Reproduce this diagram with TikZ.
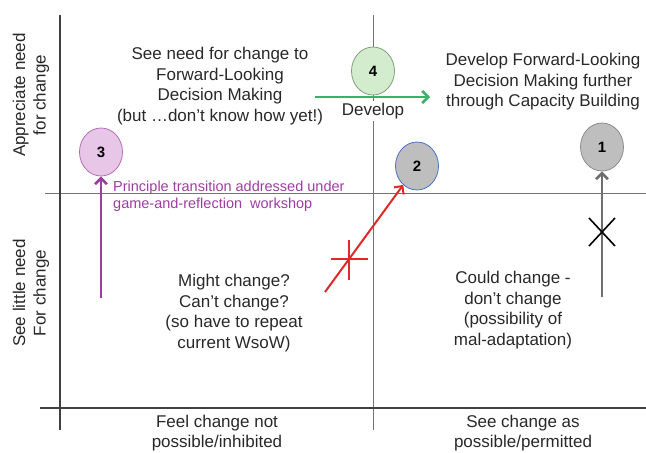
\documentclass[tikz,border=0pt]{standalone}
\usepackage{fontspec}
\setmainfont{Liberation Sans}
\usepackage{xcolor}
\usetikzlibrary{positioning,arrows.meta,shapes.geometric}

\definecolor{stagegreen}{RGB}{60,178,105}
\definecolor{greenfill}{RGB}{212,236,206}
\definecolor{greenline}{RGB}{125,160,125}
\definecolor{stagepurple}{RGB}{155,62,160}
\definecolor{purplefill}{RGB}{232,198,232}
\definecolor{purpleline}{RGB}{180,110,180}
\definecolor{grayfill}{RGB}{190,190,190}
\definecolor{grayline}{RGB}{140,140,140}
\definecolor{blueline}{RGB}{70,115,200}
\definecolor{stagered}{RGB}{225,40,40}
\definecolor{stagegray}{RGB}{110,110,110}
\definecolor{txt}{RGB}{40,40,40}

\begin{document}
\begin{tikzpicture}[
  x=1pt, y=-1pt,
  font=\fontsize{17}{20.5}\selectfont, text=txt,
  >={Straight Barb[length=6pt,width=12pt]},
  stage/.style={ellipse,draw,line width=0.8pt,minimum width=43pt,minimum height=48pt,inner sep=0pt,font=\fontsize{15}{16}\selectfont\bfseries,text=black},
  quad/.style={align=center,inner sep=1pt},
  axis/.style={line width=1.4pt,draw=black!75},
  divider/.style={line width=0.6pt,draw=black!55},
  move/.style={->,line width=2.6pt}
]
\useasboundingbox (0,0) rectangle (646,453);

% quadrant grid
\draw[divider] (45,193) -- (646,193);
\draw[divider] (373,15) -- (373,430);
\draw[axis] (60,15) -- (60,430);
\draw[axis] (40,408) -- (646,408);

% axis labels
\node[quad,rotate=90] (appr) at (31,95) {Appreciate need\\for change};
\node[quad,rotate=90] (little) at (31,293) {See little need\\For change};
\node[quad] (inhib) at (217,433) {Feel change not\\possible/inhibited};
\node[quad] (perm) at (523,433) {See change as\\possible/permitted};

% quadrant texts
\node[quad] (seeneed) at (220,86) {See need for change to\\Forward-Looking\\Decision Making\\(but \dots don't know how yet!)};
\node[quad] (further) at (543,82) {Develop Forward-Looking\\Decision Making further\\through Capacity Building};
\node[quad] (might) at (234,313) {Might change?\\Can't change?\\(so have to repeat\\current WsoW)};
\node[quad] (could) at (513,310) {Could change -\\don't change\\(possibility of\\mal-adaptation)};

% stages
\node[stage,fill=greenfill,draw=greenline] (s4) at (373,71) {4};
\node[stage,fill=grayfill,draw=grayline] (s1) at (602,147) {1};
\node[stage,fill=grayfill,draw=blueline] (s2) at (417,166) {2};
\node[stage,fill=purplefill,draw=purpleline] (s3) at (101,152) {3};

% transitions
\coordinate (dev0) at (315,97);
\coordinate (dev1) at (430,97);
\draw[move,draw=stagegreen] (dev0) -- (dev1);
\node[fill=white,inner sep=2pt] (develop) at (373,111) {Develop};

\coordinate (p0) at (101,298);
\draw[move,draw=stagepurple] (p0) -- (s3.south);
\node[align=left,anchor=north west,inner sep=0pt,text=stagepurple,
  font=\fontsize{14.5}{17}\selectfont] (ptext) at (113,181)
  {Principle transition addressed under\\game-and-reflection \ workshop};

\coordinate (r0) at (325,292);
\draw[move,draw=stagered,line width=2pt] (r0) -- (s2);
\draw[stagered,line width=1.6pt] (331,259) -- (368,259) (349,240) -- (349,280);

\coordinate (g0) at (602,297);
\draw[move,draw=stagegray] (g0) -- (s1.south);
\draw[black,line width=1.6pt] (589,218) -- (615,246) (589,246) -- (615,218);
\end{tikzpicture}
\end{document}
